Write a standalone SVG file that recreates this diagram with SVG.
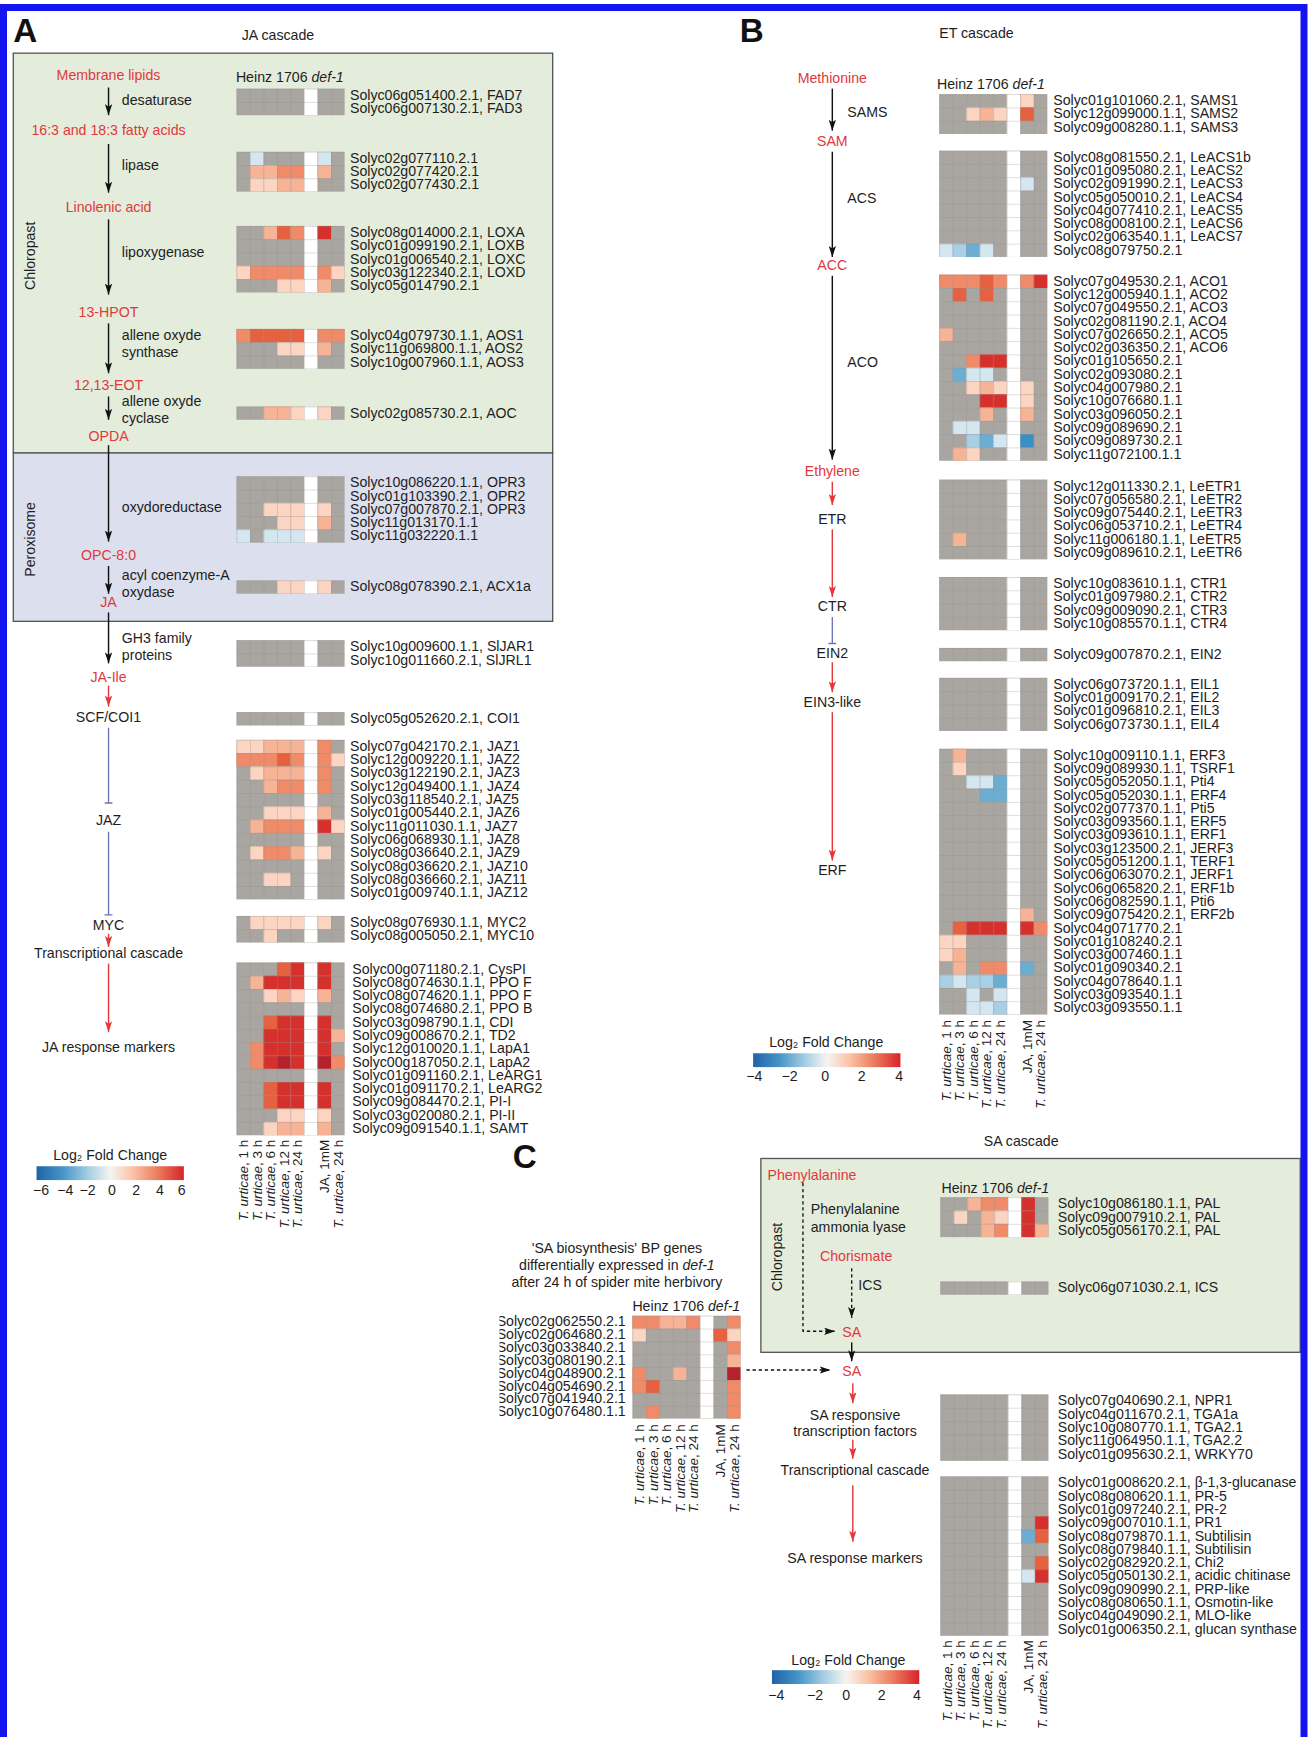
<svg xmlns="http://www.w3.org/2000/svg" width="1308" height="1737" viewBox="0 0 1308 1737">
<defs>
<style>
text{font-family:"Liberation Sans",Arial,sans-serif;fill:#1e1e1e;font-size:12.8px}
.r{fill:#e0393d}
.m{text-anchor:middle}
.e{text-anchor:end}
.xl{font-size:12.2px;text-anchor:end}
.lab{font-size:30px;font-weight:bold;fill:#111}
.ar{stroke:#111;stroke-width:1.3;fill:none}
.ra{stroke:#e5383b;stroke-width:1.3;fill:none}
.bl{stroke:#6b72b8;stroke-width:1.2;fill:none}
.da{stroke:#111;stroke-width:1.2;fill:none;stroke-dasharray:3 2.5}
.gb{fill:#a9a5a1}
.wc{fill:#fff}
.gr{fill:url(#grid)}
.box{stroke:#555;stroke-width:1.2}
</style>
<marker id="mb" viewBox="0 0 9 6" refX="9" refY="3" markerWidth="10" markerHeight="6.6" markerUnits="userSpaceOnUse" orient="auto"><path d="M0 0L9 3L0 6L2 3Z" fill="#111"/></marker>
<marker id="mr" viewBox="0 0 9 6" refX="9" refY="3" markerWidth="10" markerHeight="6.6" markerUnits="userSpaceOnUse" orient="auto"><path d="M0 0L9 3L0 6L2 3Z" fill="#e5383b"/></marker>
<pattern id="grid" width="12.2" height="12" patternUnits="userSpaceOnUse"><path d="M0 .3H12.2M.3 0V12" stroke="#8e8a87" stroke-width=".6" opacity=".5" fill="none"/></pattern>
<linearGradient id="rdbu" x1="0" x2="1" y1="0" y2="0">
<stop offset="0" stop-color="#1f63a8"/><stop offset=".18" stop-color="#4795c7"/><stop offset=".36" stop-color="#a9d0e4"/><stop offset=".5" stop-color="#f6f4f2"/><stop offset=".65" stop-color="#fbc4a8"/><stop offset=".82" stop-color="#ec7d5e"/><stop offset="1" stop-color="#d8232b"/>
</linearGradient>
<rect id="k1" width="12.2" height="12" fill="#fcd5c2"/>
<rect id="k2" width="12.2" height="12" fill="#f7b396"/>
<rect id="k3" width="12.2" height="12" fill="#ef8b69"/>
<rect id="k4" width="12.2" height="12" fill="#e5613f"/>
<rect id="k5" width="12.2" height="12" fill="#d6302d"/>
<rect id="k6" width="12.2" height="12" fill="#b6222b"/>
<rect id="ka" width="12.2" height="12" fill="#d4e7f1"/>
<rect id="kb" width="12.2" height="12" fill="#a8cfe3"/>
<rect id="kc" width="12.2" height="12" fill="#6cadd4"/>
<rect id="kd" width="12.2" height="12" fill="#3a8fc4"/>
<clipPath id="clipC"><rect x="451" y="1175" width="200" height="120"/></clipPath>
</defs>
<rect width="1308" height="1737" fill="#fff"/>
<g transform="scale(1.10754)">
<!-- Panel A boxes -->
<g id="chloroplastA"><rect class="box" x="12" y="48" width="487" height="361" fill="#e4ecdb"/><text transform="translate(32,231) rotate(-90)" class="m">Chloropast</text></g>
<g id="peroxisomeA"><rect class="box" x="12" y="409" width="487" height="152" fill="#dcdfee"/><text transform="translate(32,487) rotate(-90)" class="m">Peroxisome</text></g>
<text class="lab" x="12" y="38">A</text>
<text class="m" x="251" y="36">JA cascade</text>
<text class="lab" x="668" y="38">B</text>
<text x="848" y="34">ET cascade</text>
<text class="lab" x="463" y="1055">C</text>
<text class="m" x="922" y="1035">SA cascade</text>

<!-- Panel A pathway nodes -->
<g id="A-nodes">
<text class="m r" x="98" y="72">Membrane lipids</text>
<text x="110" y="95">desaturase</text>
<text class="m r" x="98" y="122">16:3 and 18:3 fatty acids</text>
<text x="110" y="153.5">lipase</text>
<text class="m r" x="98" y="191">Linolenic acid</text>
<text x="110" y="232">lipoxygenase</text>
<text class="m r" x="98" y="286">13-HPOT</text>
<text x="110" y="307">allene oxyde</text>
<text x="110" y="322">synthase</text>
<text class="m r" x="98" y="352">12,13-EOT</text>
<text x="110" y="367">allene oxyde</text>
<text x="110" y="382">cyclase</text>
<text class="m r" x="98" y="398">OPDA</text>
<text x="110" y="462">oxydoreductase</text>
<text class="m r" x="98" y="506">OPC-8:0</text>
<text x="110" y="524">acyl coenzyme-A</text>
<text x="110" y="539">oxydase</text>
<text class="m r" x="98" y="548">JA</text>
<text x="110" y="581">GH3 family</text>
<text x="110" y="596">proteins</text>
<text class="m r" x="98" y="616">JA-Ile</text>
<text class="m" x="98" y="652">SCF/COI1</text>
<text class="m" x="98" y="745">JAZ</text>
<text class="m" x="98" y="840">MYC</text>
<text class="m" x="98" y="865">Transcriptional cascade</text>
<text class="m" x="98" y="950">JA response markers</text>
</g>

<!-- Panel B pathway nodes -->
<g id="B-nodes">
<text class="m r" x="751.5" y="75">Methionine</text>
<text x="765" y="106">SAMS</text>
<text class="m r" x="751.5" y="132">SAM</text>
<text x="765" y="183">ACS</text>
<text class="m r" x="751.5" y="244">ACC</text>
<text x="765" y="331">ACO</text>
<text class="m r" x="751.5" y="430">Ethylene</text>
<text class="m" x="751.5" y="473">ETR</text>
<text class="m" x="751.5" y="551.5">CTR</text>
<text class="m" x="751.5" y="594">EIN2</text>
<text class="m" x="751.5" y="638">EIN3-like</text>
<text class="m" x="751.5" y="790">ERF</text>
</g>

<!-- SA cascade -->
<g id="chloroplastSA"><rect class="box" x="687" y="1046" width="487" height="175" fill="#e4ecdb"/><text transform="translate(706,1135) rotate(-90)" class="m">Chloropast</text></g>
<g id="SA-nodes">
<text class="r" x="693" y="1065">Phenylalanine</text>
<text x="732" y="1096">Phenylalanine</text>
<text x="732" y="1112">ammonia lyase</text>
<text class="m r" x="773" y="1139">Chorismate</text>
<text x="775" y="1165">ICS</text>
<text class="m r" x="769" y="1207">SA</text>
<text class="m r" x="769" y="1242.5">SA</text>
<text class="m" x="772" y="1282">SA responsive</text>
<text class="m" x="772" y="1297">transcription factors</text>
<text class="m" x="772" y="1332">Transcriptional cascade</text>
<text class="m" x="772" y="1411">SA response markers</text>
</g>

<!-- Panel C title -->
<g id="C-title">
<text class="m" x="557" y="1131">'SA biosynthesis' BP genes</text>
<text class="m" x="557" y="1147">differentially expressed in <tspan font-style="italic">def-1</tspan></text>
<text class="m" x="557" y="1162">after 24 h of spider mite herbivory</text>
</g>

<!-- Connectors -->
<g id="connectors">
<line class="ar" x1="98" y1="79" x2="98" y2="104" marker-end="url(#mb)"/>
<line class="ar" x1="98" y1="130" x2="98" y2="174" marker-end="url(#mb)"/>
<line class="ar" x1="98" y1="198" x2="98" y2="266" marker-end="url(#mb)"/>
<line class="ar" x1="98" y1="292" x2="98" y2="337" marker-end="url(#mb)"/>
<line class="ar" x1="98" y1="358" x2="98" y2="379" marker-end="url(#mb)"/>
<line class="ar" x1="98" y1="402" x2="98" y2="489" marker-end="url(#mb)"/>
<line class="ar" x1="98" y1="511" x2="98" y2="536" marker-end="url(#mb)"/>
<line class="ar" x1="98" y1="553" x2="98" y2="599" marker-end="url(#mb)"/>
<line class="ra" x1="98" y1="619" x2="98" y2="638" marker-end="url(#mr)"/>
<path class="bl" d="M98 657V725M94.5 725H101.5"/>
<path class="bl" d="M98 751V826M94.5 826H101.5"/>
<line class="ra" x1="98" y1="843" x2="98" y2="855" marker-end="url(#mr)"/>
<line class="ra" x1="98" y1="870" x2="98" y2="932" marker-end="url(#mr)"/>

<line class="ar" x1="751.5" y1="80" x2="751.5" y2="118" marker-end="url(#mb)"/>
<line class="ar" x1="751.5" y1="137" x2="751.5" y2="232" marker-end="url(#mb)"/>
<line class="ar" x1="751.5" y1="249" x2="751.5" y2="415" marker-end="url(#mb)"/>
<line class="ra" x1="751.5" y1="435" x2="751.5" y2="456" marker-end="url(#mr)"/>
<line class="ra" x1="751.5" y1="478" x2="751.5" y2="539" marker-end="url(#mr)"/>
<path class="bl" d="M751.5 557V581M748 581H755"/>
<line class="ra" x1="751.5" y1="598" x2="751.5" y2="625" marker-end="url(#mr)"/>
<line class="ra" x1="751.5" y1="643" x2="751.5" y2="777" marker-end="url(#mr)"/>

<path class="da" d="M725 1068V1202H754" marker-end="url(#mb)"/>
<line class="da" x1="769" y1="1145" x2="769" y2="1190" marker-end="url(#mb)"/>
<line class="ar" x1="769" y1="1212" x2="769" y2="1229" marker-end="url(#mb)"/>
<line class="da" x1="674" y1="1237" x2="750" y2="1237" marker-end="url(#mb)"/>
<line class="ra" x1="770" y1="1249" x2="770" y2="1267" marker-end="url(#mr)"/>
<line class="ra" x1="770" y1="1300" x2="770" y2="1317" marker-end="url(#mr)"/>
<line class="ra" x1="770" y1="1341" x2="770" y2="1392" marker-end="url(#mr)"/>
</g>

<!-- Panel A heatmaps -->
<g id="A-heatmap">
<text x="213" y="74.5">Heinz 1706 <tspan font-style="italic">def-1</tspan></text>
<g transform="translate(213.5,80)"><rect class="gb" width="97.6" height="24"/><rect class="wc" x="61" width="12.2" height="24"/><rect class="gr" width="97.6" height="24"/></g>
<g transform="translate(213.5,137)"><rect class="gb" width="97.6" height="36"/><rect class="wc" x="61" width="12.2" height="36"/>
<use href="#ka" x="12.2" y="0"/><use href="#ka" x="73.2" y="0"/>
<use href="#k2" x="12.2" y="12"/><use href="#k2" x="24.4" y="12"/><use href="#k3" x="36.6" y="12"/><use href="#k3" x="48.8" y="12"/><use href="#k2" x="73.2" y="12"/>
<use href="#k1" x="12.2" y="24"/><use href="#k1" x="24.4" y="24"/><use href="#k2" x="36.6" y="24"/><use href="#k2" x="48.8" y="24"/>
<rect class="gr" width="97.6" height="36"/></g>
<g transform="translate(213.5,204)"><rect class="gb" width="97.6" height="60"/><rect class="wc" x="61" width="12.2" height="60"/>
<use href="#k2" x="24.4" y="0"/><use href="#k4" x="36.6" y="0"/><use href="#k3" x="48.8" y="0"/><use href="#k5" x="73.2" y="0"/>
<use href="#k1" x="0" y="36"/><use href="#k3" x="12.2" y="36"/><use href="#k3" x="24.4" y="36"/><use href="#k3" x="36.6" y="36"/><use href="#k3" x="48.8" y="36"/><use href="#k3" x="73.2" y="36"/><use href="#k1" x="85.4" y="36"/>
<use href="#k1" x="36.6" y="48"/><use href="#k1" x="48.8" y="48"/><use href="#k2" x="73.2" y="48"/>
<rect class="gr" width="97.6" height="60"/></g>
<g transform="translate(213.5,297)"><rect class="gb" width="97.6" height="36"/><rect class="wc" x="61" width="12.2" height="36"/>
<use href="#k3" x="0" y="0"/><use href="#k4" x="12.2" y="0"/><use href="#k4" x="24.4" y="0"/><use href="#k4" x="36.6" y="0"/><use href="#k4" x="48.8" y="0"/><use href="#k3" x="73.2" y="0"/><use href="#k3" x="85.4" y="0"/>
<use href="#k1" x="36.6" y="12"/><use href="#k1" x="48.8" y="12"/><use href="#k2" x="73.2" y="12"/>
<rect class="gr" width="97.6" height="36"/></g>
<g transform="translate(213.5,367)"><rect class="gb" width="97.6" height="12"/><rect class="wc" x="61" width="12.2" height="12"/>
<use href="#k2" x="24.4" y="0"/><use href="#k2" x="36.6" y="0"/><use href="#k1" x="48.8" y="0"/><use href="#k1" x="73.2" y="0"/>
<rect class="gr" width="97.6" height="12"/></g>
<g transform="translate(213.5,430)"><rect class="gb" width="97.6" height="60"/><rect class="wc" x="61" width="12.2" height="60"/>
<use href="#k1" x="24.4" y="24"/><use href="#k1" x="36.6" y="24"/><use href="#k1" x="48.8" y="24"/><use href="#k1" x="73.2" y="24"/>
<use href="#k1" x="36.6" y="36"/><use href="#k1" x="48.8" y="36"/><use href="#k2" x="73.2" y="36"/>
<use href="#ka" x="0" y="48"/><use href="#ka" x="24.4" y="48"/><use href="#ka" x="36.6" y="48"/><use href="#ka" x="48.8" y="48"/>
<rect class="gr" width="97.6" height="60"/></g>
<g transform="translate(213.5,524)"><rect class="gb" width="97.6" height="12"/><rect class="wc" x="61" width="12.2" height="12"/>
<use href="#k1" x="36.6" y="0"/><use href="#k1" x="48.8" y="0"/><use href="#k1" x="73.2" y="0"/>
<rect class="gr" width="97.6" height="12"/></g>
<g transform="translate(213.5,578)"><rect class="gb" width="97.6" height="24"/><rect class="wc" x="61" width="12.2" height="24"/><rect class="gr" width="97.6" height="24"/></g>
<g transform="translate(213.5,643)"><rect class="gb" width="97.6" height="12"/><rect class="wc" x="61" width="12.2" height="12"/><rect class="gr" width="97.6" height="12"/></g>
<g transform="translate(213.5,668)"><rect class="gb" width="97.6" height="144"/><rect class="wc" x="61" width="12.2" height="144"/>
<use href="#k1" x="0" y="0"/><use href="#k1" x="12.2" y="0"/><use href="#k2" x="24.4" y="0"/><use href="#k2" x="36.6" y="0"/><use href="#k2" x="48.8" y="0"/><use href="#k3" x="73.2" y="0"/>
<use href="#k3" x="0" y="12"/><use href="#k3" x="12.2" y="12"/><use href="#k3" x="24.4" y="12"/><use href="#k4" x="36.6" y="12"/><use href="#k3" x="48.8" y="12"/><use href="#k3" x="73.2" y="12"/><use href="#k1" x="85.4" y="12"/>
<use href="#k1" x="12.2" y="24"/><use href="#k2" x="24.4" y="24"/><use href="#k2" x="36.6" y="24"/><use href="#k2" x="48.8" y="24"/><use href="#k3" x="73.2" y="24"/>
<use href="#k2" x="24.4" y="36"/><use href="#k3" x="36.6" y="36"/><use href="#k3" x="48.8" y="36"/><use href="#k3" x="73.2" y="36"/>
<use href="#k1" x="24.4" y="60"/><use href="#k1" x="36.6" y="60"/><use href="#k1" x="48.8" y="60"/><use href="#k2" x="73.2" y="60"/>
<use href="#k2" x="12.2" y="72"/><use href="#k3" x="24.4" y="72"/><use href="#k3" x="36.6" y="72"/><use href="#k3" x="48.8" y="72"/><use href="#k5" x="73.2" y="72"/><use href="#k1" x="85.4" y="72"/>
<use href="#k1" x="12.2" y="96"/><use href="#k3" x="24.4" y="96"/><use href="#k3" x="36.6" y="96"/><use href="#k2" x="48.8" y="96"/><use href="#k1" x="73.2" y="96"/>
<use href="#k1" x="24.4" y="120"/><use href="#k1" x="36.6" y="120"/>
<rect class="gr" width="97.6" height="144"/></g>
<g transform="translate(213.5,827)"><rect class="gb" width="97.6" height="24"/><rect class="wc" x="61" width="12.2" height="24"/>
<use href="#k1" x="12.2" y="0"/><use href="#k1" x="24.4" y="0"/><use href="#k1" x="36.6" y="0"/><use href="#k1" x="48.8" y="0"/><use href="#k1" x="73.2" y="0"/>
<use href="#k1" x="24.4" y="12"/>
<rect class="gr" width="97.6" height="24"/></g>
<g transform="translate(213.5,869)"><rect class="gb" width="97.6" height="156"/><rect class="wc" x="61" width="12.2" height="156"/>
<use href="#k4" x="36.6" y="0"/><use href="#k5" x="48.8" y="0"/><use href="#k5" x="73.2" y="0"/>
<use href="#k2" x="12.2" y="12"/><use href="#k5" x="24.4" y="12"/><use href="#k5" x="36.6" y="12"/><use href="#k5" x="48.8" y="12"/><use href="#k5" x="73.2" y="12"/>
<use href="#k1" x="24.4" y="24"/><use href="#k2" x="36.6" y="24"/><use href="#k1" x="48.8" y="24"/><use href="#k2" x="73.2" y="24"/>
<use href="#k4" x="24.4" y="48"/><use href="#k5" x="36.6" y="48"/><use href="#k5" x="48.8" y="48"/><use href="#k5" x="73.2" y="48"/>
<use href="#k5" x="24.4" y="60"/><use href="#k5" x="36.6" y="60"/><use href="#k5" x="48.8" y="60"/><use href="#k5" x="73.2" y="60"/><use href="#k2" x="85.4" y="60"/>
<use href="#k3" x="12.2" y="72"/><use href="#k5" x="24.4" y="72"/><use href="#k5" x="36.6" y="72"/><use href="#k5" x="48.8" y="72"/><use href="#k5" x="73.2" y="72"/>
<use href="#k3" x="12.2" y="84"/><use href="#k5" x="24.4" y="84"/><use href="#k6" x="36.6" y="84"/><use href="#k5" x="48.8" y="84"/><use href="#k6" x="73.2" y="84"/><use href="#k3" x="85.4" y="84"/>
<use href="#k4" x="24.4" y="108"/><use href="#k5" x="36.6" y="108"/><use href="#k5" x="48.8" y="108"/><use href="#k5" x="73.2" y="108"/>
<use href="#k4" x="24.4" y="120"/><use href="#k5" x="36.6" y="120"/><use href="#k5" x="48.8" y="120"/><use href="#k5" x="73.2" y="120"/>
<use href="#k1" x="36.6" y="132"/><use href="#k1" x="48.8" y="132"/><use href="#k1" x="73.2" y="132"/>
<use href="#k1" x="24.4" y="144"/><use href="#k2" x="36.6" y="144"/><use href="#k2" x="48.8" y="144"/><use href="#k2" x="73.2" y="144"/>
<rect class="gr" width="97.6" height="156"/></g>
</g>
<g id="A-genes">
<text y="90"><tspan x="316">Solyc06g051400.2.1, FAD7</tspan><tspan x="316" dy="12">Solyc06g007130.2.1, FAD3</tspan></text>
<text y="147"><tspan x="316">Solyc02g077110.2.1</tspan><tspan x="316" dy="12">Solyc02g077420.2.1</tspan><tspan x="316" dy="12">Solyc02g077430.2.1</tspan></text>
<text y="214"><tspan x="316">Solyc08g014000.2.1, LOXA</tspan><tspan x="316" dy="12">Solyc01g099190.2.1, LOXB</tspan><tspan x="316" dy="12">Solyc01g006540.2.1, LOXC</tspan><tspan x="316" dy="12">Solyc03g122340.2.1, LOXD</tspan><tspan x="316" dy="12">Solyc05g014790.2.1</tspan></text>
<text y="307"><tspan x="316">Solyc04g079730.1.1, AOS1</tspan><tspan x="316" dy="12">Solyc11g069800.1.1, AOS2</tspan><tspan x="316" dy="12">Solyc10g007960.1.1, AOS3</tspan></text>
<text x="316" y="377">Solyc02g085730.2.1, AOC</text>
<text y="440"><tspan x="316">Solyc10g086220.1.1, OPR3</tspan><tspan x="316" dy="12">Solyc01g103390.2.1, OPR2</tspan><tspan x="316" dy="12">Solyc07g007870.2.1, OPR3</tspan><tspan x="316" dy="12">Solyc11g013170.1.1</tspan><tspan x="316" dy="12">Solyc11g032220.1.1</tspan></text>
<text x="316" y="534">Solyc08g078390.2.1, ACX1a</text>
<text y="588"><tspan x="316">Solyc10g009600.1.1, SlJAR1</tspan><tspan x="316" dy="12">Solyc10g011660.2.1, SlJRL1</tspan></text>
<text x="316" y="653">Solyc05g052620.2.1, COI1</text>
<text y="678"><tspan x="316">Solyc07g042170.2.1, JAZ1</tspan><tspan x="316" dy="12">Solyc12g009220.1.1, JAZ2</tspan><tspan x="316" dy="12">Solyc03g122190.2.1, JAZ3</tspan><tspan x="316" dy="12">Solyc12g049400.1.1, JAZ4</tspan><tspan x="316" dy="12">Solyc03g118540.2.1, JAZ5</tspan><tspan x="316" dy="12">Solyc01g005440.2.1, JAZ6</tspan><tspan x="316" dy="12">Solyc11g011030.1.1, JAZ7</tspan><tspan x="316" dy="12">Solyc06g068930.1.1, JAZ8</tspan><tspan x="316" dy="12">Solyc08g036640.2.1, JAZ9</tspan><tspan x="316" dy="12">Solyc08g036620.2.1, JAZ10</tspan><tspan x="316" dy="12">Solyc08g036660.2.1, JAZ11</tspan><tspan x="316" dy="12">Solyc01g009740.1.1, JAZ12</tspan></text>
<text y="837"><tspan x="316">Solyc08g076930.1.1, MYC2</tspan><tspan x="316" dy="12">Solyc08g005050.2.1, MYC10</tspan></text>
<text y="879"><tspan x="318">Solyc00g071180.2.1, CysPI</tspan><tspan x="318" dy="12">Solyc08g074630.1.1, PPO F</tspan><tspan x="318" dy="12">Solyc08g074620.1.1, PPO F</tspan><tspan x="318" dy="12">Solyc08g074680.2.1, PPO B</tspan><tspan x="318" dy="12">Solyc03g098790.1.1, CDI</tspan><tspan x="318" dy="12">Solyc09g008670.2.1, TD2</tspan><tspan x="318" dy="12">Solyc12g010020.1.1, LapA1</tspan><tspan x="318" dy="12">Solyc00g187050.2.1, LapA2</tspan><tspan x="318" dy="12">Solyc01g091160.2.1, LeARG1</tspan><tspan x="318" dy="12">Solyc01g091170.2.1, LeARG2</tspan><tspan x="318" dy="12">Solyc09g084470.2.1, PI-I</tspan><tspan x="318" dy="12">Solyc03g020080.2.1, PI-II</tspan><tspan x="318" dy="12">Solyc09g091540.1.1, SAMT</tspan></text>
</g>
<g id="A-xlabels">
<text class="xl" transform="translate(224,1029) rotate(-90)"><tspan font-style="italic">T. urticae</tspan>, 1 h</text>
<text class="xl" transform="translate(236.2,1029) rotate(-90)"><tspan font-style="italic">T. urticae</tspan>, 3 h</text>
<text class="xl" transform="translate(248.4,1029) rotate(-90)"><tspan font-style="italic">T. urticae</tspan>, 6 h</text>
<text class="xl" transform="translate(260.6,1029) rotate(-90)"><tspan font-style="italic">T. urticae</tspan>, 12 h</text>
<text class="xl" transform="translate(272.8,1029) rotate(-90)"><tspan font-style="italic">T. urticae</tspan>, 24 h</text>
<text class="xl" transform="translate(297.2,1029) rotate(-90)">JA, 1mM</text>
<text class="xl" transform="translate(309.4,1029) rotate(-90)"><tspan font-style="italic">T. urticae</tspan>, 24 h</text>
</g>
<g id="A-legend">
<text class="m" x="99.5" y="1047">Log₂ Fold Change</text>
<rect x="33" y="1053" width="133" height="12.5" fill="url(#rdbu)"/>
<text class="m" y="1079"><tspan x="37">−6</tspan><tspan x="59">−4</tspan><tspan x="79">−2</tspan><tspan x="101">0</tspan><tspan x="123">2</tspan><tspan x="144.5">4</tspan><tspan x="164">6</tspan></text>
</g>

<!-- Panel B heatmaps -->
<g id="B-heatmap">
<text x="846" y="80">Heinz 1706 <tspan font-style="italic">def-1</tspan></text>
<g transform="translate(848,85)"><rect class="gb" width="97.6" height="36"/><rect class="wc" x="61" width="12.2" height="36"/>
<use href="#k1" x="73.2" y="0"/>
<use href="#k1" x="24.4" y="12"/><use href="#k2" x="36.6" y="12"/><use href="#k1" x="48.8" y="12"/><use href="#k4" x="73.2" y="12"/>
<rect class="gr" width="97.6" height="36"/></g>
<g transform="translate(848,136)"><rect class="gb" width="97.6" height="96"/><rect class="wc" x="61" width="12.2" height="96"/>
<use href="#ka" x="73.2" y="24"/>
<use href="#ka" x="0" y="84"/><use href="#kb" x="12.2" y="84"/><use href="#kc" x="24.4" y="84"/><use href="#ka" x="36.6" y="84"/>
<rect class="gr" width="97.6" height="96"/></g>
<g transform="translate(848,248)"><rect class="gb" width="97.6" height="168"/><rect class="wc" x="61" width="12.2" height="168"/>
<use href="#k3" x="0" y="0"/><use href="#k3" x="12.2" y="0"/><use href="#k3" x="24.4" y="0"/><use href="#k4" x="36.6" y="0"/><use href="#k3" x="48.8" y="0"/><use href="#k3" x="73.2" y="0"/><use href="#k5" x="85.4" y="0"/>
<use href="#k4" x="12.2" y="12"/><use href="#k4" x="36.6" y="12"/>
<use href="#k2" x="0" y="48"/>
<use href="#k3" x="24.4" y="72"/><use href="#k5" x="36.6" y="72"/><use href="#k5" x="48.8" y="72"/>
<use href="#kc" x="12.2" y="84"/><use href="#ka" x="24.4" y="84"/><use href="#ka" x="36.6" y="84"/>
<use href="#k1" x="24.4" y="96"/><use href="#k2" x="36.6" y="96"/><use href="#k1" x="48.8" y="96"/><use href="#k1" x="73.2" y="96"/>
<use href="#k5" x="36.6" y="108"/><use href="#k5" x="48.8" y="108"/><use href="#k1" x="73.2" y="108"/>
<use href="#k2" x="36.6" y="120"/><use href="#k2" x="73.2" y="120"/>
<use href="#ka" x="12.2" y="132"/><use href="#ka" x="24.4" y="132"/>
<use href="#kb" x="24.4" y="144"/><use href="#kc" x="36.6" y="144"/><use href="#ka" x="48.8" y="144"/><use href="#kd" x="73.2" y="144"/>
<use href="#k2" x="12.2" y="156"/><use href="#k1" x="24.4" y="156"/>
<rect class="gr" width="97.6" height="168"/></g>
<g transform="translate(848,433)"><rect class="gb" width="97.6" height="72"/><rect class="wc" x="61" width="12.2" height="72"/>
<use href="#k2" x="12.2" y="48"/>
<rect class="gr" width="97.6" height="72"/></g>
<g transform="translate(848,521)"><rect class="gb" width="97.6" height="48"/><rect class="wc" x="61" width="12.2" height="48"/><rect class="gr" width="97.6" height="48"/></g>
<g transform="translate(848,585)"><rect class="gb" width="97.6" height="12"/><rect class="wc" x="61" width="12.2" height="12"/><rect class="gr" width="97.6" height="12"/></g>
<g transform="translate(848,612)"><rect class="gb" width="97.6" height="48"/><rect class="wc" x="61" width="12.2" height="48"/><rect class="gr" width="97.6" height="48"/></g>
<g transform="translate(848,676)"><rect class="gb" width="97.6" height="240"/><rect class="wc" x="61" width="12.2" height="240"/>
<use href="#k2" x="12.2" y="0"/>
<use href="#k1" x="12.2" y="12"/>
<use href="#ka" x="24.4" y="24"/><use href="#ka" x="36.6" y="24"/><use href="#kc" x="48.8" y="24"/>
<use href="#kc" x="36.6" y="36"/><use href="#kc" x="48.8" y="36"/>
<use href="#k2" x="73.2" y="144"/>
<use href="#k4" x="12.2" y="156"/><use href="#k5" x="24.4" y="156"/><use href="#k5" x="36.6" y="156"/><use href="#k5" x="48.8" y="156"/><use href="#k5" x="73.2" y="156"/><use href="#k3" x="85.4" y="156"/>
<use href="#k1" x="0" y="168"/><use href="#k1" x="12.2" y="168"/>
<use href="#k1" x="0" y="180"/><use href="#k2" x="12.2" y="180"/>
<use href="#k2" x="12.2" y="192"/><use href="#k3" x="36.6" y="192"/><use href="#k3" x="48.8" y="192"/><use href="#kc" x="73.2" y="192"/>
<use href="#kb" x="0" y="204"/><use href="#ka" x="12.2" y="204"/><use href="#kb" x="24.4" y="204"/><use href="#kb" x="36.6" y="204"/><use href="#kc" x="48.8" y="204"/>
<use href="#ka" x="24.4" y="216"/><use href="#ka" x="48.8" y="216"/>
<use href="#ka" x="24.4" y="228"/><use href="#ka" x="36.6" y="228"/><use href="#kb" x="48.8" y="228"/>
<rect class="gr" width="97.6" height="240"/></g>
</g>
<g id="B-genes">
<text y="95"><tspan x="951">Solyc01g101060.2.1, SAMS1</tspan><tspan x="951" dy="12">Solyc12g099000.1.1, SAMS2</tspan><tspan x="951" dy="12">Solyc09g008280.1.1, SAMS3</tspan></text>
<text y="146"><tspan x="951">Solyc08g081550.2.1, LeACS1b</tspan><tspan x="951" dy="12">Solyc01g095080.2.1, LeACS2</tspan><tspan x="951" dy="12">Solyc02g091990.2.1, LeACS3</tspan><tspan x="951" dy="12">Solyc05g050010.2.1, LeACS4</tspan><tspan x="951" dy="12">Solyc04g077410.2.1, LeACS5</tspan><tspan x="951" dy="12">Solyc08g008100.2.1, LeACS6</tspan><tspan x="951" dy="12">Solyc02g063540.1.1, LeACS7</tspan><tspan x="951" dy="12">Solyc08g079750.2.1</tspan></text>
<text y="258"><tspan x="951">Solyc07g049530.2.1, ACO1</tspan><tspan x="951" dy="12">Solyc12g005940.1.1, ACO2</tspan><tspan x="951" dy="12">Solyc07g049550.2.1, ACO3</tspan><tspan x="951" dy="12">Solyc02g081190.2.1, ACO4</tspan><tspan x="951" dy="12">Solyc07g026650.2.1, ACO5</tspan><tspan x="951" dy="12">Solyc02g036350.2.1, ACO6</tspan><tspan x="951" dy="12">Solyc01g105650.2.1</tspan><tspan x="951" dy="12">Solyc02g093080.2.1</tspan><tspan x="951" dy="12">Solyc04g007980.2.1</tspan><tspan x="951" dy="12">Solyc10g076680.1.1</tspan><tspan x="951" dy="12">Solyc03g096050.2.1</tspan><tspan x="951" dy="12">Solyc09g089690.2.1</tspan><tspan x="951" dy="12">Solyc09g089730.2.1</tspan><tspan x="951" dy="12">Solyc11g072100.1.1</tspan></text>
<text y="443"><tspan x="951">Solyc12g011330.2.1, LeETR1</tspan><tspan x="951" dy="12">Solyc07g056580.2.1, LeETR2</tspan><tspan x="951" dy="12">Solyc09g075440.2.1, LeETR3</tspan><tspan x="951" dy="12">Solyc06g053710.2.1, LeETR4</tspan><tspan x="951" dy="12">Solyc11g006180.1.1, LeETR5</tspan><tspan x="951" dy="12">Solyc09g089610.2.1, LeETR6</tspan></text>
<text y="531"><tspan x="951">Solyc10g083610.1.1, CTR1</tspan><tspan x="951" dy="12">Solyc01g097980.2.1, CTR2</tspan><tspan x="951" dy="12">Solyc09g009090.2.1, CTR3</tspan><tspan x="951" dy="12">Solyc10g085570.1.1, CTR4</tspan></text>
<text x="951" y="595">Solyc09g007870.2.1, EIN2</text>
<text y="622"><tspan x="951">Solyc06g073720.1.1, EIL1</tspan><tspan x="951" dy="12">Solyc01g009170.2.1, EIL2</tspan><tspan x="951" dy="12">Solyc01g096810.2.1, EIL3</tspan><tspan x="951" dy="12">Solyc06g073730.1.1, EIL4</tspan></text>
<text y="686"><tspan x="951">Solyc10g009110.1.1, ERF3</tspan><tspan x="951" dy="12">Solyc09g089930.1.1, TSRF1</tspan><tspan x="951" dy="12">Solyc05g052050.1.1, Pti4</tspan><tspan x="951" dy="12">Solyc05g052030.1.1, ERF4</tspan><tspan x="951" dy="12">Solyc02g077370.1.1, Pti5</tspan><tspan x="951" dy="12">Solyc03g093560.1.1, ERF5</tspan><tspan x="951" dy="12">Solyc03g093610.1.1, ERF1</tspan><tspan x="951" dy="12">Solyc03g123500.2.1, JERF3</tspan><tspan x="951" dy="12">Solyc05g051200.1.1, TERF1</tspan><tspan x="951" dy="12">Solyc06g063070.2.1, JERF1</tspan><tspan x="951" dy="12">Solyc06g065820.2.1, ERF1b</tspan><tspan x="951" dy="12">Solyc06g082590.1.1, Pti6</tspan><tspan x="951" dy="12">Solyc09g075420.2.1, ERF2b</tspan><tspan x="951" dy="12">Solyc04g071770.2.1</tspan><tspan x="951" dy="12">Solyc01g108240.2.1</tspan><tspan x="951" dy="12">Solyc03g007460.1.1</tspan><tspan x="951" dy="12">Solyc01g090340.2.1</tspan><tspan x="951" dy="12">Solyc04g078640.1.1</tspan><tspan x="951" dy="12">Solyc03g093540.1.1</tspan><tspan x="951" dy="12">Solyc03g093550.1.1</tspan></text>
</g>
<g id="B-xlabels">
<text class="xl" transform="translate(858.5,921) rotate(-90)"><tspan font-style="italic">T. urticae</tspan>, 1 h</text>
<text class="xl" transform="translate(870.7,921) rotate(-90)"><tspan font-style="italic">T. urticae</tspan>, 3 h</text>
<text class="xl" transform="translate(882.9,921) rotate(-90)"><tspan font-style="italic">T. urticae</tspan>, 6 h</text>
<text class="xl" transform="translate(895.1,921) rotate(-90)"><tspan font-style="italic">T. urticae</tspan>, 12 h</text>
<text class="xl" transform="translate(907.3,921) rotate(-90)"><tspan font-style="italic">T. urticae</tspan>, 24 h</text>
<text class="xl" transform="translate(931.7,921) rotate(-90)">JA, 1mM</text>
<text class="xl" transform="translate(943.9,921) rotate(-90)"><tspan font-style="italic">T. urticae</tspan>, 24 h</text>
</g>
<g id="B-legend">
<text class="m" x="746" y="945">Log₂ Fold Change</text>
<rect x="680" y="951" width="133" height="12.5" fill="url(#rdbu)"/>
<text class="m" y="976"><tspan x="681">−4</tspan><tspan x="713">−2</tspan><tspan x="745">0</tspan><tspan x="778">2</tspan><tspan x="812">4</tspan></text>
</g>

<!-- Panel C heatmap -->
<g id="C-heatmap">
<text x="571" y="1184">Heinz 1706 <tspan font-style="italic">def-1</tspan></text>
<g transform="translate(571,1188) scale(1,0.9667)"><rect class="gb" width="97.6" height="96"/><rect class="wc" x="61" width="12.2" height="96"/>
<use href="#k3" x="0" y="0"/><use href="#k3" x="12.2" y="0"/><use href="#k2" x="24.4" y="0"/><use href="#k2" x="36.6" y="0"/><use href="#k3" x="48.8" y="0"/><use href="#k3" x="85.4" y="0"/>
<use href="#k1" x="0" y="12"/><use href="#k4" x="73.2" y="12"/><use href="#k1" x="85.4" y="12"/>
<use href="#k3" x="85.4" y="24"/>
<use href="#k2" x="85.4" y="36"/>
<use href="#k3" x="0" y="48"/><use href="#k2" x="36.6" y="48"/><use href="#k6" x="85.4" y="48"/>
<use href="#k3" x="0" y="60"/><use href="#k4" x="12.2" y="60"/><use href="#k3" x="85.4" y="60"/>
<use href="#k3" x="85.4" y="72"/>
<use href="#k3" x="12.2" y="84"/><use href="#k3" x="85.4" y="84"/>
<rect class="gr" width="97.6" height="96"/></g>
<text class="e" y="1197.5" clip-path="url(#clipC)"><tspan x="565">Solyc02g062550.2.1</tspan><tspan x="565" dy="11.6">Solyc02g064680.2.1</tspan><tspan x="565" dy="11.6">Solyc03g033840.2.1</tspan><tspan x="565" dy="11.6">Solyc03g080190.2.1</tspan><tspan x="565" dy="11.6">Solyc04g048900.2.1</tspan><tspan x="565" dy="11.6">Solyc04g054690.2.1</tspan><tspan x="565" dy="11.6">Solyc07g041940.2.1</tspan><tspan x="565" dy="11.6">Solyc10g076480.1.1</tspan></text>
</g>
<g id="C-xlabels">
<text class="xl" transform="translate(581.5,1286) rotate(-90)"><tspan font-style="italic">T. urticae</tspan>, 1 h</text>
<text class="xl" transform="translate(593.7,1286) rotate(-90)"><tspan font-style="italic">T. urticae</tspan>, 3 h</text>
<text class="xl" transform="translate(605.9,1286) rotate(-90)"><tspan font-style="italic">T. urticae</tspan>, 6 h</text>
<text class="xl" transform="translate(618.1,1286) rotate(-90)"><tspan font-style="italic">T. urticae</tspan>, 12 h</text>
<text class="xl" transform="translate(630.3,1286) rotate(-90)"><tspan font-style="italic">T. urticae</tspan>, 24 h</text>
<text class="xl" transform="translate(654.7,1286) rotate(-90)">JA, 1mM</text>
<text class="xl" transform="translate(666.9,1286) rotate(-90)"><tspan font-style="italic">T. urticae</tspan>, 24 h</text>
</g>

<!-- SA heatmaps -->
<g id="SA-heatmap">
<text x="850" y="1077">Heinz 1706 <tspan font-style="italic">def-1</tspan></text>
<g transform="translate(849,1081)"><rect class="gb" width="97.6" height="36"/><rect class="wc" x="61" width="12.2" height="36"/>
<use href="#k2" x="24.4" y="0"/><use href="#k3" x="36.6" y="0"/><use href="#k3" x="48.8" y="0"/><use href="#k5" x="73.2" y="0"/>
<use href="#k1" x="12.2" y="12"/><use href="#k2" x="36.6" y="12"/><use href="#k1" x="48.8" y="12"/><use href="#k5" x="73.2" y="12"/>
<use href="#k2" x="36.6" y="24"/><use href="#k3" x="48.8" y="24"/><use href="#k5" x="73.2" y="24"/><use href="#k2" x="85.4" y="24"/>
<rect class="gr" width="97.6" height="36"/></g>
<g transform="translate(849,1157)"><rect class="gb" width="97.6" height="12"/><rect class="wc" x="61" width="12.2" height="12"/><rect class="gr" width="97.6" height="12"/></g>
<g transform="translate(849,1259)"><rect class="gb" width="97.6" height="60"/><rect class="wc" x="61" width="12.2" height="60"/><rect class="gr" width="97.6" height="60"/></g>
<g transform="translate(849,1333)"><rect class="gb" width="97.6" height="144"/><rect class="wc" x="61" width="12.2" height="144"/>
<use href="#k5" x="85.4" y="36"/>
<use href="#kc" x="73.2" y="48"/><use href="#k4" x="85.4" y="48"/>
<use href="#k4" x="85.4" y="72"/>
<use href="#ka" x="73.2" y="84"/><use href="#k5" x="85.4" y="84"/>
<rect class="gr" width="97.6" height="144"/></g>
</g>
<g id="SA-genes">
<text y="1091"><tspan x="955">Solyc10g086180.1.1, PAL</tspan><tspan x="955" dy="12">Solyc09g007910.2.1, PAL</tspan><tspan x="955" dy="12">Solyc05g056170.2.1, PAL</tspan></text>
<text x="955" y="1167">Solyc06g071030.2.1, ICS</text>
<text y="1269"><tspan x="955">Solyc07g040690.2.1, NPR1</tspan><tspan x="955" dy="12">Solyc04g011670.2.1, TGA1a</tspan><tspan x="955" dy="12">Solyc10g080770.1.1, TGA2.1</tspan><tspan x="955" dy="12">Solyc11g064950.1.1, TGA2.2</tspan><tspan x="955" dy="12">Solyc01g095630.2.1, WRKY70</tspan></text>
<text y="1343"><tspan x="955">Solyc01g008620.2.1, β-1,3-glucanase</tspan><tspan x="955" dy="12">Solyc08g080620.1.1, PR-5</tspan><tspan x="955" dy="12">Solyc01g097240.2.1, PR-2</tspan><tspan x="955" dy="12">Solyc09g007010.1.1, PR1</tspan><tspan x="955" dy="12">Solyc08g079870.1.1, Subtilisin</tspan><tspan x="955" dy="12">Solyc08g079840.1.1, Subtilisin</tspan><tspan x="955" dy="12">Solyc02g082920.2.1, Chi2</tspan><tspan x="955" dy="12">Solyc05g050130.2.1, acidic chitinase</tspan><tspan x="955" dy="12">Solyc09g090990.2.1, PRP-like</tspan><tspan x="955" dy="12">Solyc08g080650.1.1, Osmotin-like</tspan><tspan x="955" dy="12">Solyc04g049090.2.1, MLO-like</tspan><tspan x="955" dy="12">Solyc01g006350.2.1, glucan synthase</tspan></text>
</g>
<g id="SA-xlabels">
<text class="xl" transform="translate(859.5,1481) rotate(-90)"><tspan font-style="italic">T. urticae</tspan>, 1 h</text>
<text class="xl" transform="translate(871.7,1481) rotate(-90)"><tspan font-style="italic">T. urticae</tspan>, 3 h</text>
<text class="xl" transform="translate(883.9,1481) rotate(-90)"><tspan font-style="italic">T. urticae</tspan>, 6 h</text>
<text class="xl" transform="translate(896.1,1481) rotate(-90)"><tspan font-style="italic">T. urticae</tspan>, 12 h</text>
<text class="xl" transform="translate(908.3,1481) rotate(-90)"><tspan font-style="italic">T. urticae</tspan>, 24 h</text>
<text class="xl" transform="translate(932.7,1481) rotate(-90)">JA, 1mM</text>
<text class="xl" transform="translate(944.9,1481) rotate(-90)"><tspan font-style="italic">T. urticae</tspan>, 24 h</text>
</g>
<g id="SA-legend">
<text class="m" x="766" y="1503">Log₂ Fold Change</text>
<rect x="697" y="1508" width="133" height="12.5" fill="url(#rdbu)"/>
<text class="m" y="1535"><tspan x="701">−4</tspan><tspan x="736">−2</tspan><tspan x="764">0</tspan><tspan x="796">2</tspan><tspan x="828">4</tspan></text>
</g>
</g>
<rect x="3.5" y="7.5" width="1300.5" height="1740" fill="none" stroke="#1414f0" stroke-width="7"/>
</svg>
